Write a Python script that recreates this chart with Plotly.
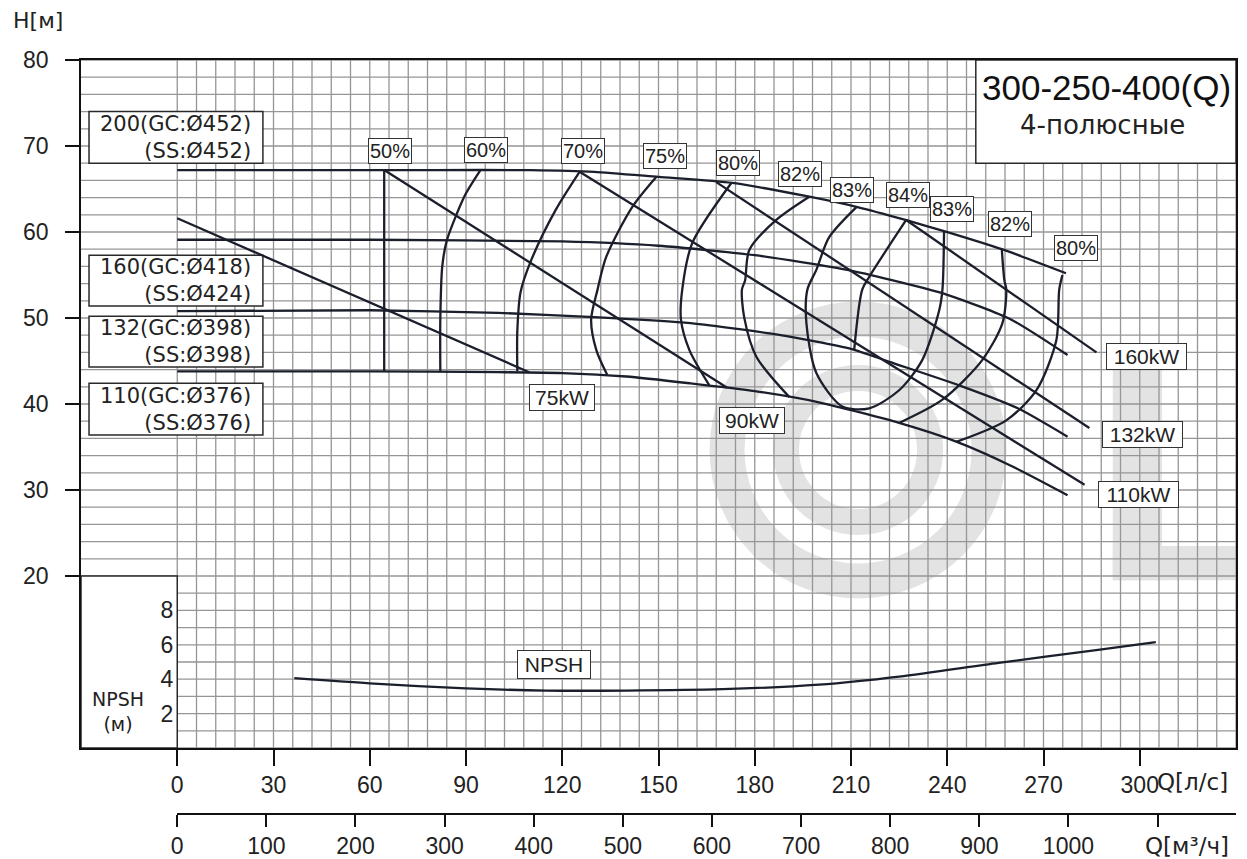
import plotly.graph_objects as go

# ---- values: Q in l/s, H in m ----
q_452 = [0, 40, 80, 110, 130, 150, 173, 197, 212, 227, 239, 257, 277]
h_452 = [67.2, 67.2, 67.2, 67.2, 67.0, 66.4, 65.7, 64.1, 62.9, 61.4, 60.1, 58.0, 55.2]

q_418 = [0, 60, 120, 150, 180, 210, 240, 260, 277.5]
h_418 = [59.1, 59.1, 58.9, 58.4, 57.3, 55.5, 52.7, 49.8, 45.7]

q_398 = [0, 60, 100, 130, 160, 190, 211, 222, 245, 262, 277.5]
h_398 = [50.8, 50.9, 50.6, 50.1, 49.4, 47.9, 46.3, 44.9, 42.0, 39.5, 36.2]

q_376 = [0, 60, 100, 120, 140, 160, 180, 200, 225, 243, 260, 277.5]
h_376 = [43.8, 43.8, 43.7, 43.6, 43.2, 42.4, 41.5, 40.2, 37.8, 35.6, 32.8, 29.4]

# motor power limit lines
power_names = ["75kW", "90kW", "110kW", "132kW", "160kW"]
power_q = [[0, 109.7], [64.5, 171.4], [125.4, 282.8], [168, 284.3], [227.2, 286.5]]
power_h = [[61.6, 43.7], [67.2, 41.9], [67.0, 30.6], [65.8, 37.2], [61.4, 46.0]]

# iso-efficiency curves
eff_q = [
    [64.5, 64.5],
    [94.5, 90, 87, 84, 82.6, 82, 82],
    [125.4, 118, 110.3, 107, 106, 106],
    [149.3, 141.8, 133.7, 131, 129, 130.6, 134],
    [172.7, 160.5, 157.4, 157, 159.6, 165.8],
    [197, 186.7, 178.3, 177, 176, 176.7, 180.5, 190.8],
    [211.7, 203.2, 199.2, 196.4, 196.1, 199.2, 207.3, 215.7, 225, 232.2, 237.5, 238.5, 239],
    [227.2, 215.7, 213.5, 211],
    [257, 257.8, 258.4, 257.2, 250.9, 238.5, 225],
    [275.9, 274.9, 274, 267.8, 258.4, 242.8],
]
eff_h = [
    [67.2, 43.8],
    [67.2, 64.5, 62, 59, 56, 50, 43.8],
    [67.0, 62.6, 56.7, 53, 48.5, 43.8],
    [66.4, 62.9, 57.1, 53.3, 49.8, 46.3, 43.4],
    [65.7, 58.7, 53.3, 49.8, 46.3, 42.2],
    [64.1, 61.4, 57.9, 54.4, 53.3, 50.1, 45.5, 40.8],
    [62.9, 59.4, 55.6, 53.3, 49.4, 43.6, 39.7, 39.5, 41.6, 45.1, 50.9, 53.3, 60.1],
    [61.4, 54.8, 53.3, 46.3],
    [58.0, 54.4, 53.3, 49.4, 45.1, 40.5, 37.8],
    [55.0, 53.3, 47.4, 41.6, 38.1, 35.6],
]
eff_lab = ["50%", "60%", "70%", "75%", "80%", "82%", "83%", "84%", "83%", "82%", "80%"]

# NPSH required (m)
npsh_q = [36.5, 60, 90, 115, 140, 170, 200, 225, 256, 287, 305]
npsh_m = [4.06, 3.76, 3.47, 3.34, 3.34, 3.42, 3.68, 4.15, 4.95, 5.7, 6.15]

x_ticks = [0, 30, 60, 90, 120, 150, 180, 210, 240, 270, 300]
m3h_ticks = [0, 100, 200, 300, 400, 500, 600, 700, 800, 900, 1000, 1100]
h_ticks = [20, 30, 40, 50, 60, 70, 80]
npsh_ticks = [2, 4, 6, 8]

ink = "#1b1e2b"
txt = "#222222"
grid = "#969696"
wm = "#e3e3e3"
sans = "Liberation Sans, Arial, sans-serif"
geo = "DejaVu Sans, sans-serif"

fig = go.Figure()

for q, h in [(q_452, h_452), (q_418, h_418), (q_398, h_398), (q_376, h_376)]:
    fig.add_trace(go.Scatter(x=q, y=h, mode="lines",
                             line=dict(color=ink, width=2.3, shape="spline", smoothing=0.6)))

for q, h in zip(power_q, power_h):
    fig.add_trace(go.Scatter(x=q, y=h, mode="lines", line=dict(color=ink, width=2.3)))

for q, h in zip(eff_q, eff_h):
    fig.add_trace(go.Scatter(x=q, y=h, mode="lines",
                             line=dict(color=ink, width=2.3, shape="spline", smoothing=0.8)))

fig.add_trace(go.Scatter(x=npsh_q, y=npsh_m, mode="lines", yaxis="y2",
                         line=dict(color=ink, width=2.3, shape="spline", smoothing=0.8)))

# invisible trace so the m3/h axis gets drawn (thin strip subplot at the bottom)
fig.add_trace(go.Scatter(x=[0], y=[0], xaxis="x2", yaxis="y3", mode="markers",
                         marker=dict(opacity=0), hoverinfo="skip"))

shapes = []

# watermark logo (light grey)
cq, ch = 212.2, 34.65
for r_px, w_px in [(131, 35), (72, 26)]:
    dq, dh = r_px / 3.2083, r_px / 8.6
    shapes.append(dict(type="circle", xref="x", yref="y", layer="below",
                       x0=cq - dq, x1=cq + dq, y0=ch - dh, y1=ch + dh,
                       line=dict(color=wm, width=w_px)))
shapes.append(dict(type="rect", xref="x", yref="y", layer="below",
                   x0=291.6, x1=306.9, y0=19.5, y1=45.5, fillcolor=wm, line_width=0))
shapes.append(dict(type="rect", xref="x", yref="y", layer="below",
                   x0=291.6, x1=345, y0=19.5, y1=23.5, fillcolor=wm, line_width=0))

# grid
for q in range(0, 331, 6):
    shapes.append(dict(type="line", xref="x", yref="y", layer="below",
                       x0=q, x1=q, y0=0, y1=80, line=dict(color=grid, width=1.3)))
for h in range(0, 81, 2):
    shapes.append(dict(type="line", xref="x", yref="y", layer="below",
                       x0=-30, x1=330, y0=h, y1=h, line=dict(color=grid, width=1.3)))

# white boxes
boxes = [
    (-27.5, 26.7, 68.0, 74.0),   # 200
    (-27.5, 26.7, 51.4, 57.3),   # 160
    (-27.5, 26.7, 44.3, 50.2),   # 132
    (-27.5, 26.7, 36.4, 42.4),   # 110
    (-30, 0, 0, 20),             # NPSH label
    (248.9, 330, 68.0, 80),      # title
]
for x0, x1, y0, y1 in boxes:
    shapes.append(dict(type="rect", xref="x", yref="y", layer="below",
                       x0=x0, x1=x1, y0=y0, y1=y1, fillcolor="white",
                       line=dict(color="#2a2a2a", width=1.5)))

ann = []

diam_texts = ["200(GC:Ø452)<br>(SS:Ø452)", "160(GC:Ø418)<br>(SS:Ø424)",
              "132(GC:Ø398)<br>(SS:Ø398)", "110(GC:Ø376)<br>(SS:Ø376)"]
for t, (x0, x1, y0, y1) in zip(diam_texts, boxes[:4]):
    ann.append(dict(x=x1, y=(y0 + y1) / 2, xref="x", yref="y", text=t, showarrow=False,
                    xanchor="right", yanchor="middle", align="right", xshift=-10,
                    font=dict(family=geo, size=21, color=txt)))

eff_pos = [(66.4, 69.4), (96.3, 69.5), (126.6, 69.4), (152, 68.8), (174.9, 68.0),
           (194, 66.8), (210.3, 64.9), (227.7, 64.3), (241.6, 62.7), (259.5, 60.9),
           (280.2, 58.1)]
for t, (x, y) in zip(eff_lab, eff_pos):
    ann.append(dict(x=x, y=y, xref="x", yref="y", text=t, showarrow=False,
                    bgcolor="white", bordercolor="#333", borderwidth=1, borderpad=1,
                    font=dict(family=sans, size=20, color=txt)))

kw_pos = [(120, 40.7), (179, 38.1), (299.6, 29.5), (300.8, 36.4), (302.1, 45.5)]
for t, (x, y) in zip(power_names, kw_pos):
    ann.append(dict(x=x, y=y, xref="x", yref="y", text=t, showarrow=False,
                    bgcolor="white", bordercolor="#333", borderwidth=1, borderpad=1,
                    width=77 if len(t) == 5 else 62,
                    font=dict(family=sans, size=21, color=txt)))

ann.append(dict(x=117.5, y=4.84, xref="x", yref="y2", text="NPSH", showarrow=False,
                bgcolor="white", bordercolor="#333", borderwidth=1, borderpad=2, width=68,
                font=dict(family=sans, size=21, color=txt)))

ann.append(dict(x=289.5, y=76.8, xref="x", yref="y", text="300-250-400(Q)", showarrow=False,
                font=dict(family=sans, size=35, color="#111")))
ann.append(dict(x=288.5, y=72.4, xref="x", yref="y", text="4-полюсные", showarrow=False,
                font=dict(family=geo, size=26, color="#222")))

ann.append(dict(x=-18.6, y=4.2, xref="x", yref="y", text="NPSH<br>(м)", showarrow=False,
                font=dict(family=geo, size=19, color=txt)))

ann.append(dict(x=-0.0372, y=1.053, xref="paper", yref="paper", text="H[м]", showarrow=False,
                xanchor="center", yanchor="middle", font=dict(family=geo, size=22, color=txt)))
ann.append(dict(x=300, y=0.0412, xref="x", yref="paper", text="Q[л/с]", showarrow=False,
                xanchor="left", yanchor="middle", xshift=15, font=dict(family=geo, size=23, color=txt)))
ann.append(dict(x=314.7, y=-0.0438, xref="x", yref="paper", text="Q[м³/ч]", showarrow=False,
                xanchor="center", yanchor="middle", font=dict(family=geo, size=23, color=txt)))

fig.update_layout(
    width=1247, height=859,
    margin=dict(l=81, r=11, t=60, b=46, autoexpand=False),
    paper_bgcolor="white", plot_bgcolor="white",
    showlegend=False,
    shapes=shapes, annotations=ann,
    xaxis=dict(range=[-30, 330], tickvals=x_ticks, ticks="outside", ticklen=16,
               tickwidth=1.5, tickcolor="#111", showline=True, linecolor="#111",
               linewidth=1.5, mirror=True, showgrid=False, zeroline=False,
               ticklabelstandoff=0, automargin=False,
               tickfont=dict(family=sans, size=23, color=txt)),
    yaxis=dict(range=[0, 80], domain=[65 / 753, 1], tickvals=h_ticks, ticks="outside",
               ticklen=14, tickwidth=1.5, tickcolor="#111", showline=True, linecolor="#111",
               linewidth=1.5, mirror=True, showgrid=False, zeroline=False,
               ticklabelstandoff=12, automargin=False,
               tickfont=dict(family=sans, size=23, color=txt)),
    yaxis2=dict(range=[0, 40], overlaying="y", anchor="free", position=30 / 360, side="left",
                tickvals=npsh_ticks, ticks="", showline=False, showgrid=False, zeroline=False,
                ticklabelstandoff=4, automargin=False,
                tickfont=dict(family=sans, size=23, color=txt)),
    yaxis3=dict(domain=[0, 0.002], range=[0, 1], visible=False, automargin=False),
    xaxis2=dict(range=[0, 1188], domain=[30 / 360, 1], anchor="y3",
                tickvals=m3h_ticks, ticktext=[str(v) for v in m3h_ticks[:-1]] + [""],
                ticks="outside", ticklen=12, tickwidth=1.5, tickcolor="#111",
                showline=True, linecolor="#111", linewidth=1.5, showgrid=False, zeroline=False,
                ticklabelstandoff=0, automargin=False,
                tickfont=dict(family=sans, size=23, color=txt)),
)

fig.write_html("out.html", config={"displayModeBar": False},
               post_script="document.body.style.margin='0';")
